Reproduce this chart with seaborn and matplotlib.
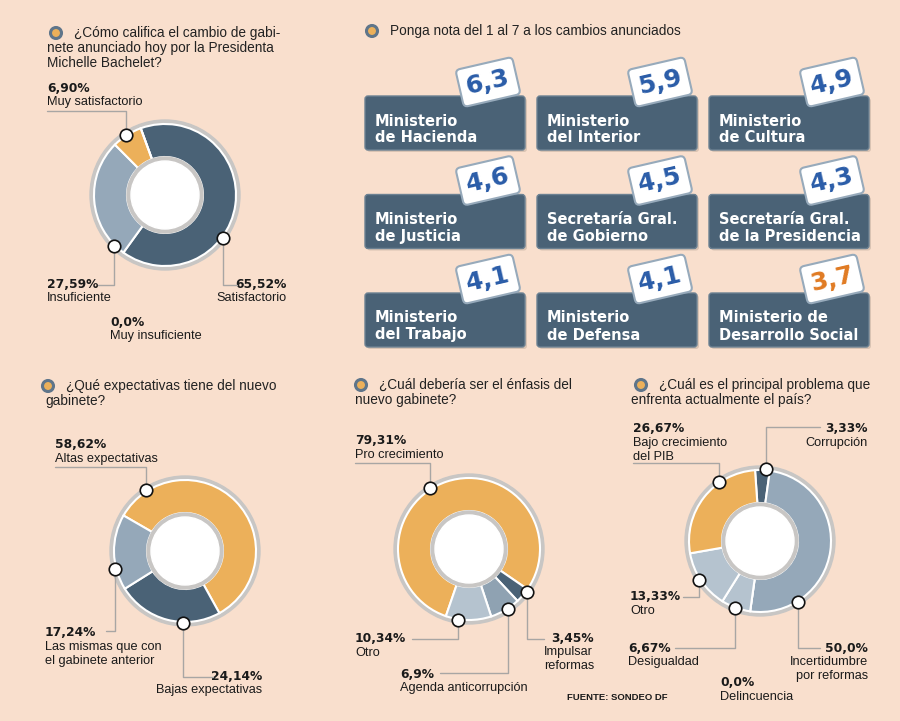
import numpy as np
import matplotlib.pyplot as plt
import seaborn as sns
from matplotlib.patches import Circle, FancyBboxPatch

sns.set_theme(style="white")
plt.rcParams['font.family'] = ['DejaVu Sans']

NARROW = ['Liberation Sans', 'DejaVu Sans']

# ---------------- datos ----------------
califica_lbl = ['Satisfactorio', 'Insuficiente', 'Muy satisfactorio', 'Muy insuficiente']
califica_pct = ['65,52%', '27,59%', '6,90%', '0,0%']
califica_val = [65.52, 27.59, 6.90, 0.0]

expect_lbl = ['Altas expectativas', 'Bajas expectativas', 'Las mismas que con\nel gabinete anterior']
expect_pct = ['58,62%', '24,14%', '17,24%']
expect_val = [58.62, 24.14, 17.24]

enfasis_lbl = ['Pro crecimiento', 'Impulsar\nreformas', 'Agenda anticorrupción', 'Otro']
enfasis_pct = ['79,31%', '3,45%', '6,9%', '10,34%']
enfasis_val = [79.31, 3.45, 6.90, 10.34]

problema_lbl = ['Corrupción', 'Incertidumbre\npor reformas', 'Delincuencia', 'Desigualdad', 'Otro',
                'Bajo crecimiento\ndel PIB']
problema_pct = ['3,33%', '50,0%', '0,0%', '6,67%', '13,33%', '26,67%']
problema_val = [3.33, 50.0, 0.0, 6.67, 13.33, 26.67]

ministerios = ['Ministerio\nde Hacienda', 'Ministerio\ndel Interior', 'Ministerio\nde Cultura',
               'Ministerio\nde Justicia', 'Secretaría Gral.\nde Gobierno', 'Secretaría Gral.\nde la Presidencia',
               'Ministerio\ndel Trabajo', 'Ministerio\nde Defensa', 'Ministerio de\nDesarrollo Social']
notas = [6.3, 5.9, 4.9, 4.6, 4.5, 4.3, 4.1, 4.1, 3.7]

# ---------------- colores ----------------
BG = '#f9dfcd'
NAR = '#ecb05a'
OSC = '#4a6276'
MED = '#95a8b9'
MED2 = '#8fa2b2'
CLA = '#b5c3cf'
ANILLO = '#c8c6c4'
LINEA = '#a8a6a4'

H = 721
def Y(y):
    return H - y

fig = plt.figure(figsize=(9, 7.21), dpi=100, facecolor=BG)
ax = fig.add_axes([0, 0, 1, 1])
ax.set_facecolor(BG)


def titulo(x, y, lineas, x2):
    ax.add_patch(Circle((x, Y(y)), 5.5, facecolor=NAR, edgecolor='#5f758a', lw=2.2, zorder=4))
    for i, t in enumerate(lineas):
        ax.text(x + 18 if i == 0 else x2, Y(y + i * 15), t, family=NARROW, fontsize=9.8,
                color='#222222', va='center', ha='left')


def dona(cx, cy, vals, colores, start, etiquetas, pcts, layout):
    ax.add_patch(Circle((cx, Y(cy)), 75, color=ANILLO, zorder=1))
    wedges, _ = ax.pie(vals, colors=colores, startangle=start, counterclock=False, radius=71,
                       center=(cx, Y(cy)), normalize=True, frame=True,
                       wedgeprops=dict(width=33, edgecolor='white', linewidth=1.5))
    ax.add_patch(Circle((cx, Y(cy)), 38, color=ANILLO, zorder=3))
    ax.add_patch(Circle((cx, Y(cy)), 34, color='white', zorder=3))
    for w, lab, pct, lay in zip(wedges, etiquetas, pcts, layout):
        tx, ty, ha, f, ly, lx, nx, nha = lay
        ax.text(tx, Y(ty), pct, fontsize=8.8, fontweight='bold', color='#1a1a1a',
                ha=ha, va='center')
        for k, s in enumerate(lab.split('\n')):
            ax.text(nx, Y(ty + 14 * (k + 1)), s, family=NARROW, fontsize=9.2, color='#1a1a1a',
                    ha=nha, va='center')
        if f is None:
            continue
        ang = np.deg2rad(w.theta1 + f * (w.theta2 - w.theta1))
        dx, dy = cx + 72 * np.cos(ang), Y(cy) + 72 * np.sin(ang)
        ax.plot([lx, dx, dx], [Y(ly), Y(ly), dy], color=LINEA, lw=1, zorder=4)
        ax.plot(dx, dy, 'o', ms=9, mfc='white', mec='#111111', mew=1.2, zorder=6)


# ---------- pregunta 1 ----------
titulo(56, 33, ['¿Cómo califica el cambio de gabi-', 'nete anunciado hoy por la Presidenta',
                'Michelle Bachelet?'], 47)
dona(165, 195, califica_val, [OSC, MED, NAR, CLA], 110, califica_lbl, califica_pct,
     [(287, 284, 'right', 0.38, 285, 237, 287, 'right'),
      (47, 284, 'left', 0.91, 285, 98, 47, 'left'),
      (47, 88, 'left', 0.52, 111, 47, 47, 'left'),
      (110, 322, 'left', None, None, None, 110, 'left')])

# ---------- pregunta 3 ----------
titulo(48, 386, ['¿Qué expectativas tiene del nuevo', 'gabinete?'], 45)
dona(185, 551, expect_val, [NAR, OSC, MED], 150, expect_lbl, expect_pct,
     [(55, 445, 'left', 0.87, 467, 55, 55, 'left'),
      (262, 676, 'right', 0.65, 677, 213, 262, 'right'),
      (45, 633, 'left', 0.72, 631, 106, 45, 'left')])

# ---------- pregunta 4 ----------
titulo(361, 385, ['¿Cuál debería ser el énfasis del', 'nuevo gabinete?'], 355)
dona(469, 549, enfasis_val, [NAR, OSC, MED2, CLA], 251, enfasis_lbl, enfasis_pct,
     [(355, 441, 'left', 0.55, 463, 355, 355, 'left'),
      (594, 638, 'right', 0.85, 639, 544, 544, 'left'),
      (400, 674, 'left', 0.6, 673, 440, 400, 'left'),
      (355, 639, 'left', 0.28, 639, 412, 355, 'left')])

# ---------- pregunta 5 ----------
titulo(641, 385, ['¿Cuál es el principal problema que', 'enfrenta actualmente el país?'], 631)
dona(760, 541, problema_val, [OSC, MED, CLA, CLA, CLA, NAR], 94, problema_lbl, problema_pct,
     [(868, 429, 'right', 0.25, 427, 820, 868, 'right'),
      (868, 648, 'right', 0.22, 648, 820, 868, 'right'),
      (720, 683, 'left', None, None, None, 720, 'left'),
      (628, 648, 'left', 0.47, 648, 675, 628, 'left'),
      (630, 597, 'left', 0.47, 597, 683, 630, 'left'),
      (633, 429, 'left', 0.32, 463, 633, 633, 'left')])

# ---------- pregunta 2: notas ----------
titulo(372, 31, ['Ponga nota del 1 al 7 a los cambios anunciados'], 372)
peor = min(notas)
for i, (nom, nota) in enumerate(zip(ministerios, notas)):
    col, fila = i % 3, i // 3
    x0 = 365 + col * 172
    y0 = 96 + fila * 98.5
    ax.add_patch(FancyBboxPatch((x0 + 2, Y(y0 + 54) - 2), 160, 54, boxstyle='round,pad=0,rounding_size=3',
                                facecolor='#d9c3b3', edgecolor='none', zorder=2))
    ax.add_patch(FancyBboxPatch((x0, Y(y0 + 54)), 160, 54, boxstyle='round,pad=0,rounding_size=3',
                                facecolor=OSC, edgecolor='#6c8192', lw=1, zorder=3))
    l1, l2 = nom.split('\n')
    ax.text(x0 + 10, Y(y0 + 25), l1, color='white', fontsize=10.5, fontweight='bold', va='center', zorder=4)
    ax.text(x0 + 10, Y(y0 + 42), l2, color='white', fontsize=10.5, fontweight='bold', va='center', zorder=4)
    ax.text(x0 + 123, Y(y0 - 14), f'{nota:.1f}'.replace('.', ','), fontsize=18, fontweight='bold',
            color='#e07a22' if nota == peor else '#2a5ca8', ha='center', va='center', rotation=13,
            zorder=5, bbox=dict(boxstyle='round,pad=0.28,rounding_size=0.18', facecolor='white',
                                edgecolor='#97aabb', lw=1.5))

ax.text(567, Y(697), 'FUENTE: SONDEO DF', family=NARROW, fontsize=6.8, fontweight='bold',
        color='#1a1a1a', va='center')

ax.set_xlim(0, 900)
ax.set_ylim(0, H)
ax.set_aspect('auto')
ax.axis('off')

fig.savefig('out.png', dpi=100, facecolor=BG)
